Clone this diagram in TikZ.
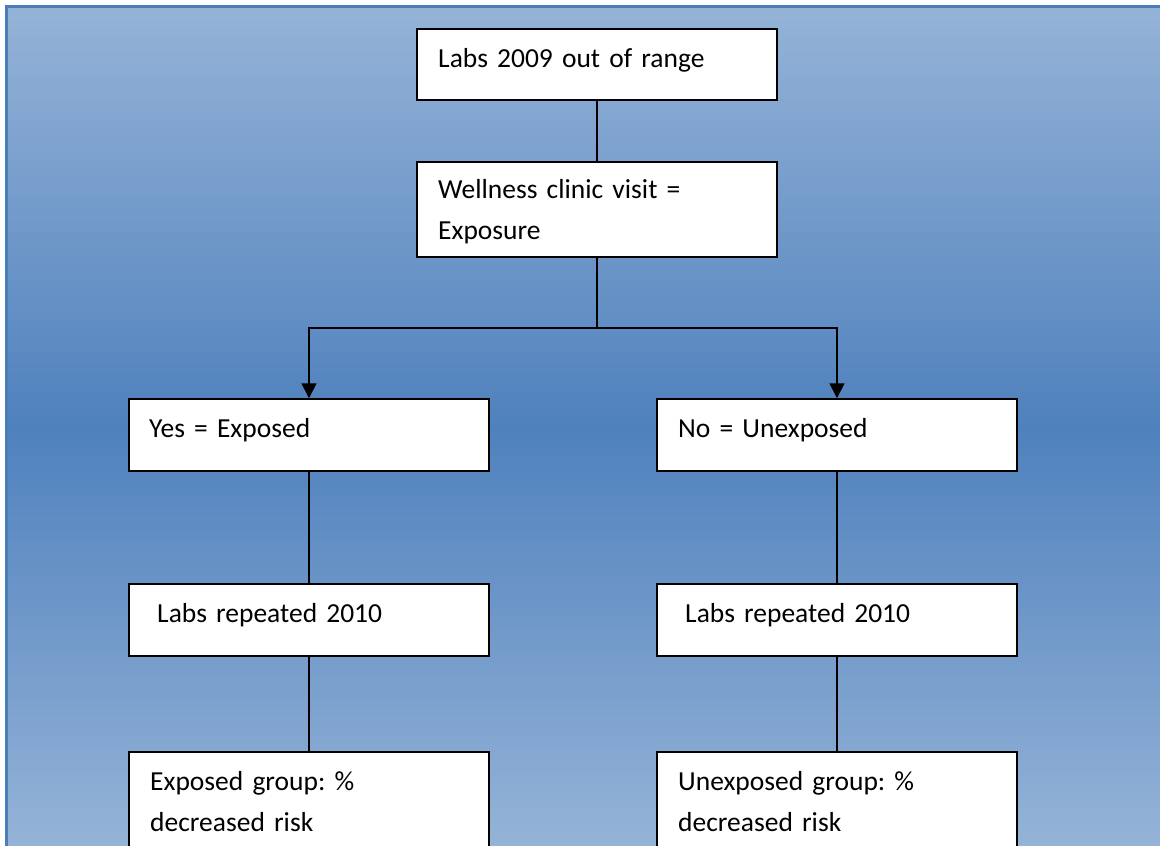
\documentclass[tikz,border=0pt]{standalone}
\usepackage{fontspec}
\setmainfont{Carlito}
\frenchspacing
\usetikzlibrary{arrows.meta}
\definecolor{lightbg}{RGB}{149,179,215}
\definecolor{darkbg}{RGB}{79,129,189}
\definecolor{frameblue}{RGB}{74,126,187}
\tikzset{
  box/.style={draw=black, fill=white, line width=1.5pt, minimum width=360pt, inner sep=0pt},
  txt/.style={anchor=base west, inner sep=0pt, text width=340pt, align=left,
              font=\fontsize{27.5}{41.5}\selectfont},
  conn/.style={draw=black, line width=1.6pt},
  arr/.style={conn, -{Triangle[width=15pt,length=15pt]}}
}
\begin{document}
\begin{tikzpicture}[x=1pt,y=-1pt]
\useasboundingbox (0,0) rectangle (1160,846);
\clip (0,0) rectangle (1160,846);
\fill[white] (0,0) rectangle (1160,846);
\shade[top color=lightbg, bottom color=lightbg, middle color=darkbg] (6.5,6.5) rectangle (1160,846);
\draw[frameblue, line width=3pt] (6.5,846) -- (6.5,6.5) -- (1160,6.5);

% boxes
\node[box, minimum height=71pt] (b1) at (597,64.5) {};
\node[box, minimum height=95pt] (b2) at (597,209.5) {};
\node[box, minimum height=72pt] (b3) at (309,435) {};
\node[box, minimum height=72pt] (b4) at (837,435) {};
\node[box, minimum height=72pt] (b5) at (309,620) {};
\node[box, minimum height=72pt] (b6) at (837,620) {};
\node[box, minimum height=140pt] (b7) at (309,822) {};
\node[box, minimum height=140pt] (b8) at (837,822) {};

% texts
\node[txt] (t1) at (438,67) {Labs 2009 out of range};
\node[txt] (t2) at (438,198) {Wellness clinic visit =\\Exposure};
\node[txt] (t3) at (149,437) {Yes = Exposed};
\node[txt] (t4) at (678,437) {No = Unexposed};
\node[txt] (t5) at (157,622) {Labs repeated 2010};
\node[txt] (t6) at (685,622) {Labs repeated 2010};
\node[txt] (t7) at (150,790) {Exposed group: \%\\decreased risk};
\node[txt] (t8) at (678,790) {Unexposed group: \%\\decreased risk};

% connectors
\coordinate (split) at (597,328);
\draw[conn] (b1.south) -- (b2.north);
\draw[conn] (b2.south) -- (split);
\draw[arr] (split) -| (b3.north);
\draw[arr] (split) -| (b4.north);
\draw[conn] (b3.south) -- (b5.north);
\draw[conn] (b4.south) -- (b6.north);
\draw[conn] (b5.south) -- (b7.north);
\draw[conn] (b6.south) -- (b8.north);
\end{tikzpicture}
\end{document}
